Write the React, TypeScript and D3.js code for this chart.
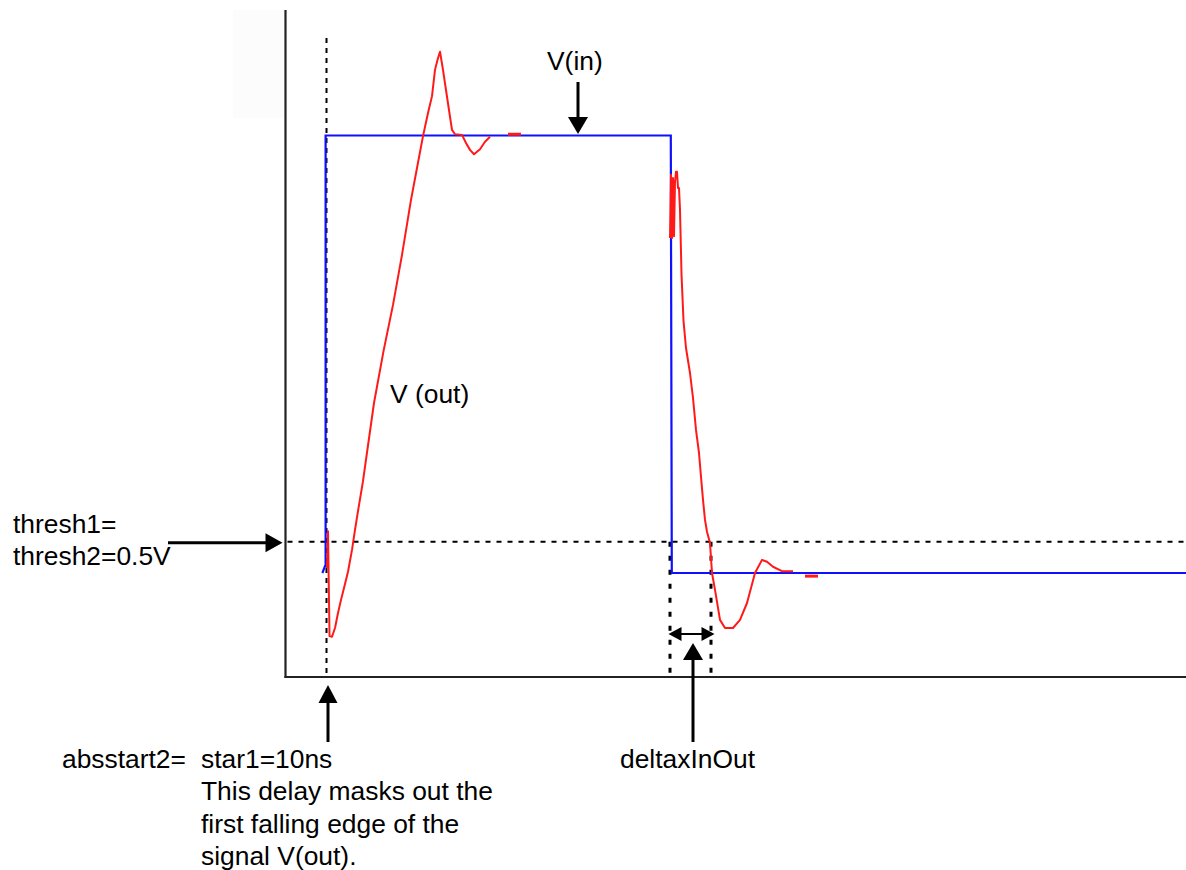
import React, { useEffect } from "react";
import * as d3 from "d3";

// ---- Data (time in ns, voltage in V) ----
const vinTime = [9.1, 9.75, 9.9, 9.9, 96.2, 96.45, 225];
const vinVolt = [0, 0.11, 0.11, 7, 7, 0, 0];

// V(out) main trace (null = hidden / gap)
const voutTime = [
  10.25, 10.5, 10.88, 11.5, 12.25, 13.0, 13.75, 14.5, 15.5, 16.5, 17.25, 18.0, 19.25,
  20.63, 22.0, 24.38, 26.75, 29.0, 31.25, 32.75, 34.25, 35.5, 36.5, 37.25, 38.0, 38.5,
  39.25, 40.25, 41.0, 41.5, 42.25, 44.0, 45.0, 46.0, 47.0, 48.5, 49.75, 51.0,
  null,
  96.0, 96.25, 96.5, 96.75, 97.0, 97.25, 97.5, 97.75, 98.0, 98.25, 98.5, 98.88, 99.38,
  100.0, 101.0, 101.75, 102.5, 103.25, 103.75, 104.25, 104.75, 105.25, 106.0, 106.5,
  107.25, 108.5, 109.75, 111.75, 113.5, 115.25, 117.25, 119.0, 120.25, 121.75, 124.0, 126.75,
];
const voutVolt = [
  0.08, 0.67, -1.01, -1.02, -0.88, -0.64, -0.43, -0.24, 0.02, 0.37, 0.69, 0.99, 1.47,
  2.1, 2.72, 3.55, 4.29, 5.09, 5.97, 6.48, 6.99, 7.36, 7.63, 8.05, 8.24, 8.34,
  8.05, 7.62, 7.3, 7.09, 7.02, 7.01, 6.88, 6.77, 6.7, 6.78, 6.9, 6.98,
  null,
  5.36, 6.37, 5.36, 6.32, 5.39, 6.26, 6.42, 6.42, 6.16, 6.16, 5.81, 4.77, 4.03,
  3.6, 3.2, 2.8, 2.29, 1.92, 1.54, 1.17, 0.85, 0.66, 0.48, 0,
  -0.27, -0.75, -0.88, -0.88, -0.75, -0.48, 0, 0.21, 0.18, 0.1, 0.03, 0.03,
];
// short settled V(out) fragments
const tailStart = [55.5, 129.75];
const tailEnd = [58.75, 133.0];
const tailVolt = [7.02, -0.05];

const threshold = 0.5;
const start1 = 10;
const deltaStart = 96;
const deltaEnd = 106.25;

const labelThresh = ["thresh1=", "thresh2=0.5V"];
const labelStartLeft = "absstart2=";
const labelStartLines = [
  "star1=10ns",
  "This delay masks out the",
  "first falling edge of the",
  "signal V(out).",
];

const W = 1186;
const H = 870;
const FONT = "'Liberation Sans', Arial, Helvetica, sans-serif";

function Arrow({ x1, y1, x2, y2, len = 17, half = 9.5, sw = 3 }: any) {
  // arrow from (x1,y1) with tip at (x2,y2)
  const dx = x2 - x1, dy = y2 - y1;
  const L = Math.hypot(dx, dy);
  const ux = dx / L, uy = dy / L;
  const bx = x2 - ux * len, by = y2 - uy * len;
  const px = -uy, py = ux;
  const pts = [
    [x2, y2],
    [bx + px * half, by + py * half],
    [bx - px * half, by - py * half],
  ];
  return (
    <g>
      <line x1={x1} y1={y1} x2={bx + ux * 2} y2={by + uy * 2} stroke="#000" strokeWidth={sw} />
      <polygon points={pts.map((p) => p.join(",")).join(" ")} fill="#000" />
    </g>
  );
}

export default function App() {
  useEffect(() => {
    document.body.style.margin = "0";
  }, []);

  const x = d3.scaleLinear().domain([0, 225]).range([286, 1186]);
  const y = d3.scaleLinear().domain([0, 7]).range([573, 135.5]);

  const axisX = 285.5;
  const axisBottom = 677;

  const line = d3
    .line<[number | null, number | null]>()
    .defined((d) => d[0] !== null && d[1] !== null)
    .x((d) => x(d[0] as number))
    .y((d) => y(d[1] as number));

  const vinPath = line(vinTime.map((t, i) => [t, vinVolt[i]]))!;
  const voutPath = line(voutTime.map((t, i) => [t, voutVolt[i]]))!;

  const yTh = y(threshold);
  const xStart = x(start1);
  const xD1 = x(deltaStart);
  const xD2 = x(deltaEnd);

  return (
    <svg width={W} height={H} style={{ display: "block", background: "#fff" }} fontFamily={FONT}>
      <rect x={233} y={10} width={52} height={108} fill="#fdfcfd" />

      {/* axes */}
      <line x1={axisX} y1={10} x2={axisX} y2={axisBottom + 1} stroke="#222" strokeWidth={2.2} />
      <line x1={axisX - 1} y1={axisBottom} x2={W} y2={axisBottom} stroke="#222" strokeWidth={2.2} />

      {/* threshold dashed line */}
      <line x1={axisX + 2} y1={yTh} x2={W} y2={yTh} stroke="#000" strokeWidth={1.8} strokeDasharray="5,6" />

      {/* start1 dotted vertical */}
      <line x1={xStart + 0.5} y1={38} x2={xStart + 0.5} y2={axisBottom} stroke="#000" strokeWidth={2} strokeDasharray="5,5" />

      {/* delta dotted verticals */}
      <line x1={xD1} y1={yTh} x2={xD1} y2={axisBottom} stroke="#000" strokeWidth={3} strokeDasharray="5,9" />
      <line x1={xD2} y1={yTh} x2={xD2} y2={axisBottom} stroke="#000" strokeWidth={3} strokeDasharray="5,9" />

      {/* V(in) */}
      <path d={vinPath} fill="none" stroke="#1010ff" strokeWidth={2.2} />
      {/* V(out) */}
      <path d={voutPath} fill="none" stroke="#ff1a1a" strokeWidth={2} strokeLinejoin="round" />
      {tailStart.map((t, i) => (
        <line
          key={i}
          x1={x(t)}
          x2={x(tailEnd[i])}
          y1={y(tailVolt[i])}
          y2={y(tailVolt[i])}
          stroke="#ff1a1a"
          strokeWidth={3}
        />
      ))}

      {/* annotations */}
      <Arrow x1={168} y1={yTh + 1} x2={axisX - 3} y2={yTh + 1} />
      <Arrow x1={578} y1={82} x2={578} y2={y(7) - 1.5} len={17} half={10} />
      <Arrow x1={xStart + 2} y1={742} x2={xStart + 2} y2={685} len={18} half={9.5} />
      <Arrow x1={693} y1={742} x2={693} y2={643} len={17} half={10} />
      {/* double arrow */}
      <Arrow x1={691} y1={634} x2={xD1 - 1.5} y2={634} len={13} half={7} sw={2} />
      <Arrow x1={690} y1={634} x2={xD2 + 3.5} y2={634} len={13} half={7} sw={2} />

      <g fontSize={26.4} fill="#000">
        <text x={13} y={533}>{labelThresh[0]}</text>
        <text x={13} y={565}>{labelThresh[1]}</text>
        <text x={547} y={70}>V(in)</text>
        <text x={390} y={403}>V (out)</text>
        <text x={620} y={768}>deltaxInOut</text>
        <text x={62} y={768}>{labelStartLeft}</text>
        {labelStartLines.map((s, i) => (
          <text key={i} x={201} y={768 + i * 32.4}>{s}</text>
        ))}
      </g>
    </svg>
  );
}
